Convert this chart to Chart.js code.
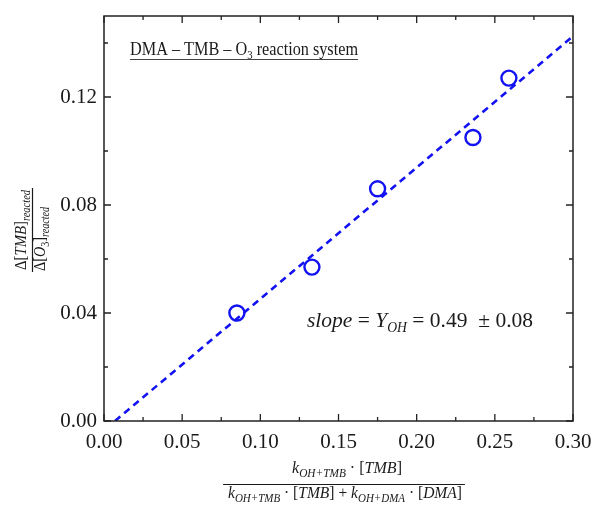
<!DOCTYPE html>
<html><head><meta charset="utf-8">
<script src="https://cdn.jsdelivr.net/npm/chart.js@4"></script>
<style>html,body{margin:0;padding:0;background:#fff}#wrap{width:592px;height:506px}</style>
</head><body><div id="wrap"><canvas id="c" width="592" height="506"></canvas></div>
<script>
// ---- data ----
const xValues = [0.085, 0.133, 0.175, 0.236, 0.259];
const yValues = [0.040, 0.057, 0.086, 0.105, 0.127];
const fitX = [0.007, 0.300];
const fitY = [0.000, 0.1425];
const xMajorTicks = [0, 0.05, 0.10, 0.15, 0.20, 0.25, 0.30];
const xMinorTicks = [0.025, 0.075, 0.125, 0.175, 0.225, 0.275];
const yMajorTicks = [0, 0.04, 0.08, 0.12];
const yMinorTicks = [0.02, 0.06, 0.10, 0.14];
const titleText = 'DMA – TMB – O';
const slopeValue = '0.49';
const slopeErr = '0.08';

const BLUE = '#1212f2';
const INK = '#1a1a1a';

function rich(ctx, segs, x, y, targetW, align) {
  let w = 0;
  for (const s of segs) { ctx.font = s[1]; w += ctx.measureText(s[0]).width; }
  const sx = targetW ? targetW / w : 1;
  const W = w * sx;
  ctx.save();
  ctx.translate(align === 'center' ? x - W / 2 : x, y);
  ctx.scale(sx, 1);
  let cx = 0;
  for (const s of segs) {
    ctx.font = s[1];
    ctx.fillText(s[0], cx, s[2] || 0);
    cx += ctx.measureText(s[0]).width;
  }
  ctx.restore();
}

const deco = {
  id: 'deco',
  afterDraw(chart) {
    const ctx = chart.ctx, a = chart.chartArea;
    const xs = chart.scales.x, ys = chart.scales.y;
    ctx.save();
    ctx.strokeStyle = '#222';
    ctx.lineWidth = 1.5;
    ctx.strokeRect(a.left, a.top, a.right - a.left, a.bottom - a.top);
    ctx.lineWidth = 1.3;
    ctx.beginPath();
    const tk = (arr, len) => {
      for (const v of arr) {
        const px = xs.getPixelForValue(v);
        ctx.moveTo(px, a.bottom); ctx.lineTo(px, a.bottom - len);
        ctx.moveTo(px, a.top); ctx.lineTo(px, a.top + len);
      }
    };
    const tky = (arr, len) => {
      for (const v of arr) {
        const py = ys.getPixelForValue(v);
        ctx.moveTo(a.left, py); ctx.lineTo(a.left + len, py);
        ctx.moveTo(a.right, py); ctx.lineTo(a.right - len, py);
      }
    };
    tk(xMajorTicks, 7); tk(xMinorTicks, 4);
    tky(yMajorTicks, 7); tky(yMinorTicks, 4);
    ctx.stroke();

    ctx.fillStyle = INK;
    ctx.textBaseline = 'alphabetic';
    const R = '"Liberation Serif", serif';
    // title inside plot
    rich(ctx, [[titleText, '18px ' + R], ['3', '12px ' + R, 4], [' reaction system', '18px ' + R]], 130, 55, 228, 'left');
    ctx.strokeStyle = '#444'; ctx.lineWidth = 1;
    ctx.beginPath(); ctx.moveTo(130, 59.5); ctx.lineTo(358, 59.5); ctx.stroke();

    // slope annotation
    rich(ctx, [['slope', 'italic 22px ' + R], [' = ', '22px ' + R], ['Y', 'italic 22px ' + R],
      ['OH', 'italic 14px ' + R, 5], [' = ' + slopeValue + '  ± ' + slopeErr, '22px ' + R]], 307, 327, 226, 'left');

    // x axis title (fraction)
    const it = 'italic 17px ' + R, rg = '17px ' + R, sb = 'italic 12px ' + R;
    rich(ctx, [['k', it], ['OH+TMB', sb, 4], [' · [', rg], ['TMB', it], [']', rg]], 347, 473, 110, 'center');
    ctx.strokeStyle = INK; ctx.lineWidth = 1.2;
    ctx.beginPath(); ctx.moveTo(223, 484.5); ctx.lineTo(465, 484.5); ctx.stroke();
    rich(ctx, [['k', it], ['OH+TMB', sb, 4], [' · [', rg], ['TMB', it], ['] + ', rg], ['k', it], ['OH+DMA', sb, 4], [' · [', rg], ['DMA', it], [']', rg]], 345, 498, 234, 'center');

    // y axis title (rotated fraction)
    ctx.save();
    ctx.translate(32, 230);
    ctx.rotate(-Math.PI / 2);
    rich(ctx, [['Δ[', rg], ['TMB', it], [']', rg], ['reacted', sb, 4]], 0, -6, 80, 'center');
    rich(ctx, [['Δ[', rg], ['O', it], ['3', '12px ' + R, 4], [']', rg], ['reacted', sb, 4]], -9, 13, 64, 'center');
    ctx.beginPath(); ctx.moveTo(-42, 0.5); ctx.lineTo(42, 0.5); ctx.stroke();
    ctx.restore();
    ctx.restore();
  }
};

new Chart(document.getElementById('c'), {
  type: 'scatter',
  data: {
    datasets: [
      {
        type: 'line',
        data: fitX.map((x, i) => ({ x, y: fitY[i] })),
        borderColor: BLUE, borderWidth: 2.6, borderDash: [7, 5],
        pointRadius: 0, fill: false, tension: 0
      },
      {
        data: xValues.map((x, i) => ({ x, y: yValues[i] })),
        pointStyle: 'circle', pointRadius: 7.5, borderWidth: 2.4,
        borderColor: BLUE, backgroundColor: 'rgba(0,0,0,0)'
      }
    ]
  },
  options: {
    responsive: false, animation: false, devicePixelRatio: 1,
    layout: { padding: { top: 16, right: 19, left: 0, bottom: 0 } },
    plugins: { legend: { display: false }, tooltip: { enabled: false } },
    scales: {
      x: {
        type: 'linear', min: 0, max: 0.3,
        grid: { display: false, drawTicks: false }, border: { display: false },
        ticks: { stepSize: 0.05, padding: 9, color: INK, font: { family: 'Liberation Serif', size: 21 },
          callback: v => v.toFixed(2), maxRotation: 0 },
        afterFit: s => { s.height = 85; s.paddingLeft = 0; s.paddingRight = 0; }
      },
      y: {
        type: 'linear', min: 0, max: 0.15,
        grid: { display: false, drawTicks: false }, border: { display: false },
        ticks: { stepSize: 0.02, includeBounds: false, padding: 7, color: INK, font: { family: 'Liberation Serif', size: 21 },
          callback: v => (Math.abs(v / 0.04 - Math.round(v / 0.04)) < 1e-6 ? v.toFixed(2) : '') },
        afterFit: s => { s.width = 104; s.paddingTop = 0; s.paddingBottom = 0; }
      }
    }
  },
  plugins: [deco]
});
</script>
</body></html>
